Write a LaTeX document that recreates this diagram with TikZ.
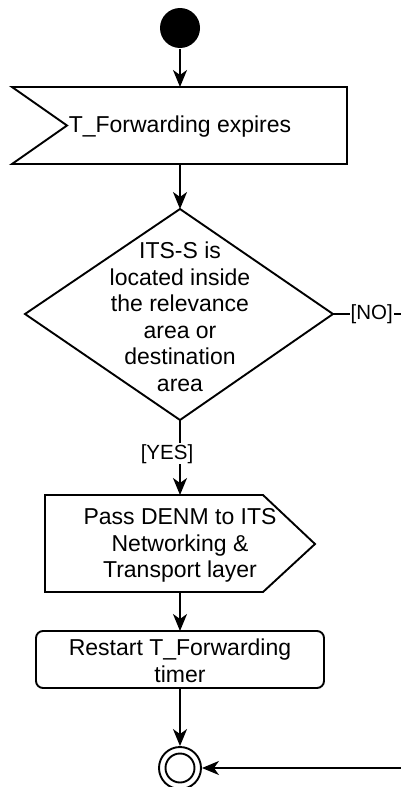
\documentclass[tikz,border=0pt]{standalone}
\usepackage{fontspec}
\setmainfont{Liberation Sans}
\usetikzlibrary{arrows.meta}
\begin{document}
\begin{tikzpicture}[x=1pt,y=-1pt,line width=1.9pt,
  arr/.style={-{Stealth[length=17pt,width=14pt,inset=5pt]}},
  txt/.style={align=center,inner sep=0pt,font=\fontsize{23}{26.5}\selectfont},
  lbl/.style={fill=white,inner sep=1pt,font=\fontsize{20.5}{24}\selectfont}]
\useasboundingbox (0,0) rectangle (401,787);
% start
\node[circle,fill=black,minimum size=40pt,inner sep=0pt] (start) at (180,28) {};
% receive signal box
\coordinate (r1nw) at (12,87);
\coordinate (r1ne) at (347,87);
\coordinate (r1se) at (347,164);
\coordinate (r1sw) at (12,164);
\coordinate (r1notch) at (67,125.5);
\coordinate (r1top) at (180,87);
\coordinate (r1bot) at (180,164);
\draw (r1nw) -- (r1ne) -- (r1se) -- (r1sw) -- (r1notch) -- cycle;
\node[txt] (recvtxt) at (180,127) {T\_Forwarding expires};
% decision
\coordinate (dtop) at (180,209);
\coordinate (dright) at (333,314);
\coordinate (dbot) at (180,420);
\coordinate (dleft) at (25,314);
\draw (dtop) -- (dright) -- (dbot) -- (dleft) -- cycle;
\node[txt] (dectxt) at (180,317) {ITS-S is\\located inside\\the relevance\\area or\\destination\\area};
% send signal box
\coordinate (s2top) at (180,495);
\coordinate (s2bot) at (180,592);
\draw (45,495) -- (263,495) -- (315,544) -- (263,592) -- (45,592) -- cycle;
\node[txt] (sendtxt) at (180,545.5) {Pass DENM to ITS\\Networking \&\\Transport layer};
% restart box
\draw[rounded corners=7pt] (36,631) rectangle (324,688);
\coordinate (r3top) at (180,631);
\coordinate (r3bot) at (180,688);
\node[txt] (resttxt) at (180,661) {Restart T\_Forwarding\\timer};
% final
\node[circle,draw,minimum size=42pt,inner sep=0pt] (fin) at (180,768) {};
\draw (fin.center) circle[radius=14.5pt];
\coordinate (noexit) at (401,314);
\coordinate (noreturn) at (401,768);
% connectors
\draw[arr] (start) -- (r1top);
\draw[arr] (r1bot) -- (dtop);
\draw[arr] (dbot) -- node[lbl,pos=0.45,xshift=-13pt]{[YES]} (s2top);
\draw[arr] (s2bot) -- (r3top);
\draw[arr] (r3bot) -- (fin.north);
\draw (dright) -- node[lbl,pos=0.57]{[NO]} (noexit);
\draw[arr] (noreturn) -- (fin.east);
\end{tikzpicture}
\end{document}
